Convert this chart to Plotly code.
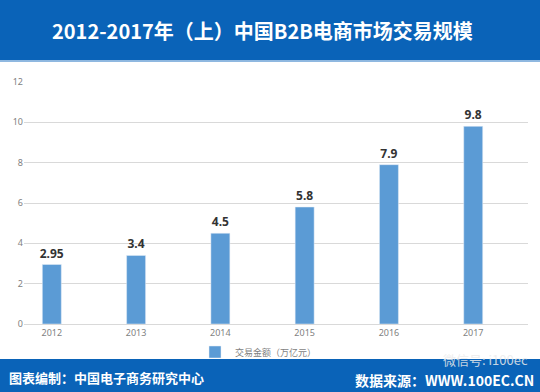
import plotly.graph_objects as go

years = ["2012", "2013", "2014", "2015", "2016", "2017"]
values = [2.95, 3.4, 4.5, 5.8, 7.9, 9.8]
labels = ["<b>2.95</b>", "<b>3.4</b>", "<b>4.5</b>", "<b>5.8</b>", "<b>7.9</b>", "<b>9.8</b>"]
series_name = "交易金额（万亿元）"
title_text = "2012-2017年（上）中国B2B电商市场交易规模"
footer_left = "图表编制：中国电子商务研究中心"
footer_right = "数据来源：WWW.100EC.CN"
watermark = "微信号: i100ec"

W, H = 540, 392
L, R, T, B = 24, 12, 82, 68
pw, ph = W - L - R, H - T - B

def px(x):
    return (x - L) / pw

def py(y):
    return (H - B - y) / ph

BLUE = "#0A63B8"
BAR = "#5B9BD5"
CJK = "Noto Sans CJK SC"

fig = go.Figure()
fig.add_trace(go.Bar(
    x=years, y=values, name=series_name,
    marker=dict(color=BAR), width=0.225,
    text=labels, textposition="outside", cliponaxis=False, constraintext="none",
    textfont=dict(family="Noto Sans, " + CJK, size=12, color="#333333"),
))

fig.update_layout(
    width=W, height=H,
    margin=dict(l=L, r=R, t=T, b=B),
    paper_bgcolor="white", plot_bgcolor="white",
    font=dict(family=CJK),
    showlegend=True,
    legend=dict(x=px(195), y=py(352), xanchor="left", yanchor="middle",
                orientation="h", font=dict(size=9, color="#7F7F7F", family=CJK),
                bgcolor="rgba(0,0,0,0)"),
    xaxis=dict(type="category", range=[-0.33, 5.65], showgrid=False,
               showline=True, linecolor="#D9D9D9", ticks="",
               tickfont=dict(size=9, color="#7F7F7F", family="Noto Sans")),
    yaxis=dict(range=[0, 12], dtick=2, showgrid=True, gridcolor="#D9D9D9",
               zeroline=False, showline=False, ticks="",
               tickfont=dict(size=9, color="#7F7F7F", family="Noto Sans")),
)

shapes = [
    dict(type="rect", xref="paper", yref="paper", x0=px(0), x1=px(W), y0=py(60), y1=py(0),
         fillcolor=BLUE, line=dict(width=0), layer="above"),
    dict(type="rect", xref="paper", yref="paper", x0=px(0), x1=px(W), y0=py(62), y1=py(60),
         fillcolor="#8FB8E0", line=dict(width=0), layer="above"),
    dict(type="rect", xref="paper", yref="paper", x0=px(0), x1=px(W), y0=py(392), y1=py(359),
         fillcolor=BLUE, line=dict(width=0), layer="above"),
]
fig.update_layout(shapes=shapes)

fig.add_annotation(text="<b>" + title_text + "</b>", xref="paper", yref="paper",
                   x=px(262), y=py(30), showarrow=False, xanchor="center", yanchor="middle",
                   font=dict(size=20, color="white", family=CJK))
fig.add_annotation(text="<b>" + footer_left + "</b>", xref="paper", yref="paper",
                   x=px(7), y=py(377), showarrow=False, xanchor="left", yanchor="middle",
                   font=dict(size=13, color="white", family=CJK))
fig.add_annotation(text="<b>" + footer_right + "</b>", xref="paper", yref="paper",
                   x=px(536), y=py(380), showarrow=False, xanchor="right", yanchor="middle",
                   font=dict(size=14, color="white", family=CJK))
fig.add_annotation(text=watermark, xref="paper", yref="paper",
                   x=px(530), y=py(359), showarrow=False, xanchor="right", yanchor="middle",
                   font=dict(size=13, color="rgba(235,235,235,0.85)", family=CJK))

fig.write_html("out.html", config={"displayModeBar": False},
               post_script="document.body.style.margin='0';document.body.style.overflow='hidden';")
